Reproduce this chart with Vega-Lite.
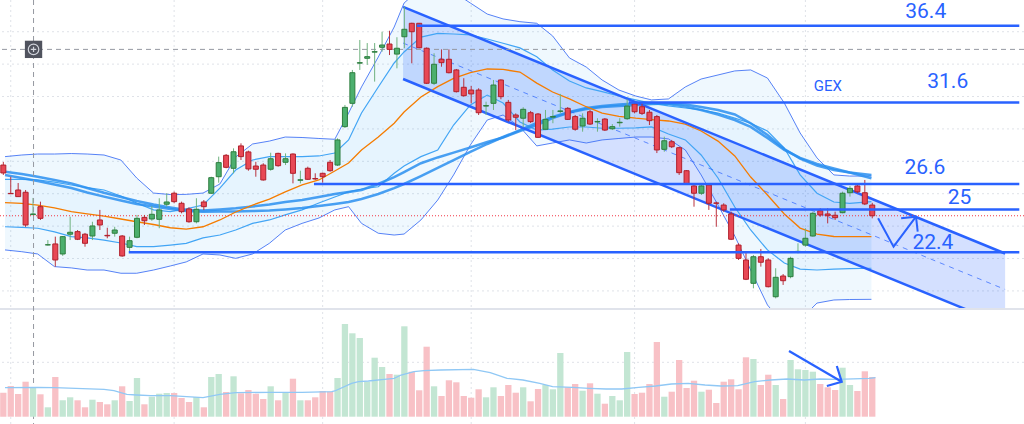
{
  "$schema": "https://vega.github.io/schema/vega-lite/v6.json",
  "description": "Candlestick chart with Bollinger bands, moving averages, a descending channel, price levels and volume.",
  "width": 1024,
  "height": 424,
  "autosize": {"type": "fit", "contains": "padding"},
  "padding": 0,
  "background": "white",
  "config": {"view": {"stroke": null}},
  "datasets": {
    "candles": [
      {"i":-2,"o":27.77,"h":27.96,"l":27.16,"c":27.28,"v":24},
      {"i":-1,"o":26.02,"h":27.05,"l":25.98,"c":26.0,"v":30.7},
      {"i":0,"o":26.23,"h":26.66,"l":25.8,"c":25.82,"v":22.7},
      {"i":1,"o":26.09,"h":26.23,"l":23.95,"c":24.07,"v":35},
      {"i":2,"o":24.71,"h":25.74,"l":24.69,"c":24.75,"v":29.4},
      {"i":3,"o":25.2,"h":25.51,"l":24.38,"c":24.48,"v":22.4},
      {"i":4,"o":22.84,"h":23.14,"l":22.8,"c":22.85,"v":9.4},
      {"i":5,"o":22.9,"h":23.35,"l":21.5,"c":21.91,"v":39.7},
      {"i":6,"o":22.28,"h":23.39,"l":22.16,"c":23.35,"v":16.4},
      {"i":7,"o":23.5,"h":24.58,"l":23.14,"c":23.62,"v":19.4},
      {"i":8,"o":23.66,"h":23.76,"l":23.14,"c":23.19,"v":16.4},
      {"i":9,"o":23.5,"h":23.58,"l":22.73,"c":22.94,"v":9.4},
      {"i":10,"o":23.39,"h":24.27,"l":23.14,"c":24.01,"v":17},
      {"i":11,"o":24.38,"h":25.0,"l":23.76,"c":24.07,"v":14.7},
      {"i":12,"o":23.43,"h":23.9,"l":23.25,"c":23.4,"v":12.4},
      {"i":13,"o":23.56,"h":23.96,"l":23.35,"c":23.76,"v":16.4},
      {"i":14,"o":23.39,"h":23.45,"l":22.11,"c":22.16,"v":30.4},
      {"i":15,"o":22.69,"h":23.35,"l":22.39,"c":23.1,"v":15.7},
      {"i":16,"o":23.31,"h":24.69,"l":23.25,"c":24.48,"v":38.7},
      {"i":17,"o":24.54,"h":24.69,"l":24.07,"c":24.33,"v":12.4},
      {"i":18,"o":24.44,"h":25.24,"l":24.33,"c":24.73,"v":20},
      {"i":19,"o":24.42,"h":25.72,"l":23.87,"c":25.0,"v":23},
      {"i":20,"o":25.35,"h":26.03,"l":25.2,"c":25.49,"v":23.7},
      {"i":21,"o":26.03,"h":26.13,"l":25.41,"c":25.51,"v":23.7},
      {"i":22,"o":25.41,"h":25.51,"l":24.79,"c":24.89,"v":18.7},
      {"i":23,"o":25.06,"h":25.16,"l":24.21,"c":24.27,"v":14.7},
      {"i":24,"o":24.27,"h":25.72,"l":24.17,"c":25.04,"v":19.7},
      {"i":25,"o":25.49,"h":25.61,"l":24.99,"c":25.2,"v":9.4},
      {"i":26,"o":26.03,"h":27.05,"l":25.98,"c":26.99,"v":39.7},
      {"i":27,"o":27.05,"h":28.29,"l":26.68,"c":27.92,"v":42.7},
      {"i":28,"o":28.37,"h":28.45,"l":27.57,"c":27.63,"v":24.7},
      {"i":29,"o":27.57,"h":28.8,"l":27.26,"c":28.59,"v":40.4},
      {"i":30,"o":28.95,"h":29.11,"l":28.08,"c":28.29,"v":23.4},
      {"i":31,"o":28.58,"h":28.66,"l":27.42,"c":27.53,"v":26.7},
      {"i":32,"o":27.71,"h":27.97,"l":27.05,"c":27.51,"v":23},
      {"i":33,"o":27.77,"h":27.88,"l":26.81,"c":26.85,"v":17.7},
      {"i":34,"o":27.51,"h":28.53,"l":27.42,"c":28.16,"v":30.4},
      {"i":35,"o":28.49,"h":28.53,"l":27.67,"c":27.73,"v":16.4},
      {"i":36,"o":27.94,"h":28.49,"l":27.77,"c":28.16,"v":24},
      {"i":37,"o":28.45,"h":28.49,"l":26.64,"c":27.26,"v":38},
      {"i":38,"o":26.83,"h":27.42,"l":26.64,"c":26.86,"v":16.4},
      {"i":39,"o":27.57,"h":27.67,"l":26.85,"c":26.89,"v":16.4},
      {"i":40,"o":26.94,"h":27.26,"l":26.85,"c":26.91,"v":19.4},
      {"i":41,"o":27.26,"h":27.3,"l":26.68,"c":27.05,"v":25.7},
      {"i":42,"o":27.94,"h":28.08,"l":27.36,"c":27.42,"v":25},
      {"i":43,"o":27.77,"h":29.42,"l":27.71,"c":29.32,"v":38.7},
      {"i":44,"o":30.14,"h":31.48,"l":30.06,"c":31.33,"v":92.7},
      {"i":45,"o":31.58,"h":33.64,"l":31.37,"c":33.47,"v":83.4},
      {"i":46,"o":34.06,"h":35.49,"l":33.64,"c":34.09,"v":78.7},
      {"i":47,"o":34.36,"h":35.3,"l":33.95,"c":34.46,"v":35},
      {"i":48,"o":34.74,"h":35.3,"l":32.92,"c":34.77,"v":59},
      {"i":49,"o":35.04,"h":36.0,"l":34.77,"c":35.18,"v":49.7},
      {"i":50,"o":35.24,"h":36.06,"l":34.56,"c":34.91,"v":42.7},
      {"i":51,"o":34.62,"h":35.66,"l":33.74,"c":34.98,"v":42},
      {"i":52,"o":35.69,"h":37.54,"l":34.98,"c":36.15,"v":90.4},
      {"i":53,"o":36.52,"h":36.55,"l":34.05,"c":36.0,"v":45},
      {"i":54,"o":36.52,"h":36.54,"l":34.98,"c":35.01,"v":26.4},
      {"i":55,"o":34.98,"h":35.03,"l":32.77,"c":32.82,"v":70},
      {"i":56,"o":32.82,"h":34.67,"l":32.71,"c":33.99,"v":30.4},
      {"i":57,"o":34.3,"h":34.91,"l":33.84,"c":34.09,"v":20.7},
      {"i":58,"o":34.3,"h":34.91,"l":33.43,"c":33.47,"v":36.4},
      {"i":59,"o":33.64,"h":33.7,"l":32.25,"c":32.3,"v":34.4},
      {"i":60,"o":32.57,"h":33.13,"l":31.99,"c":32.05,"v":20.7},
      {"i":61,"o":32.4,"h":32.65,"l":31.58,"c":32.16,"v":19},
      {"i":62,"o":32.4,"h":32.51,"l":30.86,"c":31.0,"v":27.4},
      {"i":63,"o":31.41,"h":31.68,"l":30.86,"c":31.44,"v":19.4},
      {"i":64,"o":31.58,"h":33.02,"l":31.17,"c":32.71,"v":29.4},
      {"i":65,"o":33.02,"h":33.06,"l":31.83,"c":31.99,"v":20.7},
      {"i":66,"o":31.64,"h":31.79,"l":30.45,"c":30.55,"v":31.7},
      {"i":67,"o":30.86,"h":30.96,"l":29.93,"c":30.72,"v":24},
      {"i":68,"o":30.66,"h":31.34,"l":30.1,"c":31.21,"v":29.4},
      {"i":69,"o":31.0,"h":31.11,"l":30.37,"c":30.45,"v":15.4},
      {"i":70,"o":30.92,"h":30.98,"l":29.44,"c":29.48,"v":27.7},
      {"i":71,"o":29.98,"h":31.17,"l":29.93,"c":30.59,"v":31.7},
      {"i":72,"o":30.73,"h":31.17,"l":30.35,"c":30.76,"v":27.4},
      {"i":73,"o":31.08,"h":32.16,"l":30.96,"c":31.11,"v":63.7},
      {"i":74,"o":31.27,"h":31.35,"l":30.55,"c":30.59,"v":29.4},
      {"i":75,"o":30.76,"h":30.86,"l":29.89,"c":29.98,"v":32.7},
      {"i":76,"o":30.18,"h":30.96,"l":29.83,"c":30.66,"v":26},
      {"i":77,"o":31.06,"h":31.17,"l":30.24,"c":30.3,"v":33.4},
      {"i":78,"o":30.43,"h":30.66,"l":29.83,"c":30.46,"v":23},
      {"i":79,"o":30.61,"h":30.67,"l":29.87,"c":29.93,"v":13},
      {"i":80,"o":30.01,"h":30.3,"l":29.93,"c":30.14,"v":20.7},
      {"i":81,"o":30.38,"h":30.66,"l":30.14,"c":30.41,"v":16.4},
      {"i":82,"o":30.63,"h":31.83,"l":30.55,"c":31.41,"v":64.7},
      {"i":83,"o":31.54,"h":31.68,"l":30.96,"c":31.06,"v":22.7},
      {"i":84,"o":31.37,"h":31.58,"l":30.86,"c":30.96,"v":24},
      {"i":85,"o":31.03,"h":31.17,"l":30.24,"c":30.51,"v":32.7},
      {"i":86,"o":30.76,"h":30.86,"l":28.51,"c":28.7,"v":74.7},
      {"i":87,"o":28.74,"h":29.52,"l":28.59,"c":29.27,"v":20},
      {"i":88,"o":29.21,"h":29.32,"l":28.82,"c":28.9,"v":25},
      {"i":89,"o":28.84,"h":28.9,"l":27.16,"c":27.3,"v":56.7},
      {"i":90,"o":27.42,"h":27.46,"l":26.54,"c":26.6,"v":28.7},
      {"i":91,"o":26.48,"h":26.54,"l":25.2,"c":26.03,"v":36},
      {"i":92,"o":26.03,"h":26.54,"l":25.92,"c":26.48,"v":25},
      {"i":93,"o":26.54,"h":26.64,"l":25.0,"c":25.41,"v":27},
      {"i":94,"o":25.43,"h":25.51,"l":23.96,"c":25.41,"v":13.7},
      {"i":95,"o":25.3,"h":25.41,"l":24.89,"c":25.0,"v":35},
      {"i":96,"o":24.75,"h":24.89,"l":23.14,"c":23.19,"v":37.4},
      {"i":97,"o":22.83,"h":22.94,"l":21.91,"c":22.01,"v":27.4},
      {"i":98,"o":21.91,"h":22.39,"l":20.67,"c":20.72,"v":59.4},
      {"i":99,"o":20.47,"h":22.22,"l":20.16,"c":22.11,"v":57.7},
      {"i":100,"o":22.11,"h":22.59,"l":21.5,"c":21.77,"v":31.7},
      {"i":101,"o":21.91,"h":22.01,"l":20.22,"c":20.26,"v":42},
      {"i":102,"o":19.64,"h":21.4,"l":19.54,"c":20.84,"v":31.7},
      {"i":103,"o":20.92,"h":21.04,"l":20.37,"c":20.63,"v":17.7},
      {"i":104,"o":20.88,"h":22.11,"l":20.78,"c":22.01,"v":56.7},
      {"i":105,"o":22.41,"h":22.94,"l":22.32,"c":22.44,"v":47.4},
      {"i":106,"o":22.83,"h":23.87,"l":22.73,"c":23.25,"v":46.7},
      {"i":107,"o":23.39,"h":24.89,"l":23.35,"c":24.79,"v":45},
      {"i":108,"o":24.95,"h":25.1,"l":24.58,"c":24.69,"v":32.7},
      {"i":109,"o":24.75,"h":25.1,"l":24.17,"c":24.64,"v":29.4},
      {"i":110,"o":24.67,"h":24.89,"l":24.38,"c":24.52,"v":26.7},
      {"i":111,"o":24.83,"h":26.13,"l":24.79,"c":26.03,"v":49},
      {"i":112,"o":26.06,"h":26.48,"l":25.82,"c":26.33,"v":31.7},
      {"i":113,"o":26.48,"h":26.54,"l":26.03,"c":26.12,"v":25.7},
      {"i":114,"o":26.06,"h":26.85,"l":25.3,"c":25.37,"v":45.4},
      {"i":115,"o":25.3,"h":25.44,"l":24.48,"c":24.64,"v":39.7}
    ],
    "bands": [
      {"i":-1.77,"uo":28.29,"lo":22.53,"iu":26.89,"il":23.96,"orr":25.45,"ma1":27.36,"ma2":27.16},
      {"i":0.49,"uo":28.39,"lo":22.42,"iu":26.88,"il":23.92,"orr":25.4,"ma1":27.22,"ma2":26.97},
      {"i":2.63,"uo":28.45,"lo":22.28,"iu":26.85,"il":23.87,"orr":25.3,"ma1":27.05,"ma2":26.78},
      {"i":4.89,"uo":28.45,"lo":21.5,"iu":26.72,"il":23.64,"orr":25.12,"ma1":26.85,"ma2":26.57},
      {"i":7.16,"uo":28.48,"lo":21.42,"iu":26.54,"il":23.35,"orr":24.89,"ma1":26.64,"ma2":26.35},
      {"i":9.29,"uo":28.45,"lo":21.29,"iu":26.38,"il":23.27,"orr":24.75,"ma1":26.35,"ma2":26.08},
      {"i":11.56,"uo":28.39,"lo":21.29,"iu":26.23,"il":23.14,"orr":24.62,"ma1":26.06,"ma2":25.82},
      {"i":13.83,"uo":28.08,"lo":21.09,"iu":25.86,"il":22.96,"orr":24.44,"ma1":25.8,"ma2":25.58},
      {"i":15.96,"uo":26.97,"lo":21.09,"iu":25.43,"il":22.73,"orr":24.27,"ma1":25.55,"ma2":25.37},
      {"i":18.23,"uo":26.04,"lo":21.29,"iu":25.0,"il":22.73,"orr":24.1,"ma1":25.33,"ma2":25.21},
      {"i":20.49,"uo":25.95,"lo":21.54,"iu":24.89,"il":22.83,"orr":23.9,"ma1":25.15,"ma2":25.06},
      {"i":22.63,"uo":25.96,"lo":21.79,"iu":25.06,"il":22.94,"orr":23.82,"ma1":25.0,"ma2":24.93},
      {"i":24.89,"uo":26.04,"lo":22.28,"iu":25.3,"il":23.27,"orr":23.96,"ma1":24.96,"ma2":24.89},
      {"i":27.16,"uo":26.6,"lo":22.22,"iu":26.35,"il":23.45,"orr":24.38,"ma1":25.03,"ma2":24.9},
      {"i":29.29,"uo":28.27,"lo":22.01,"iu":27.46,"il":23.76,"orr":24.87,"ma1":25.1,"ma2":24.91},
      {"i":31.56,"uo":29.07,"lo":22.28,"iu":28.08,"il":24.17,"orr":25.3,"ma1":25.21,"ma2":24.93},
      {"i":33.83,"uo":29.25,"lo":22.94,"iu":28.29,"il":24.38,"orr":25.67,"ma1":25.33,"ma2":24.96},
      {"i":35.96,"uo":29.5,"lo":23.76,"iu":28.29,"il":24.69,"orr":26.11,"ma1":25.49,"ma2":25.03},
      {"i":38.23,"uo":29.47,"lo":24.17,"iu":28.29,"il":25.0,"orr":26.54,"ma1":25.61,"ma2":25.12},
      {"i":40.49,"uo":29.41,"lo":24.5,"iu":28.33,"il":25.43,"orr":26.85,"ma1":25.8,"ma2":25.24},
      {"i":42.63,"uo":29.36,"lo":25.0,"iu":28.51,"il":25.8,"orr":27.4,"ma1":25.98,"ma2":25.37},
      {"i":44.49,"uo":30.98,"lo":25.2,"iu":29.32,"il":26.11,"orr":27.9,"ma1":26.11,"ma2":25.49},
      {"i":46.23,"uo":32.59,"lo":24.17,"iu":30.98,"il":26.29,"orr":28.7,"ma1":26.23,"ma2":25.67},
      {"i":48.49,"uo":34.44,"lo":23.56,"iu":32.59,"il":26.43,"orr":29.5,"ma1":26.6,"ma2":25.98},
      {"i":50.63,"uo":36.29,"lo":23.45,"iu":34.07,"il":27.26,"orr":30.35,"ma1":27.03,"ma2":26.35},
      {"i":51.96,"uo":37.77,"lo":23.51,"iu":34.75,"il":27.71,"orr":31.04,"ma1":27.34,"ma2":26.6},
      {"i":54.23,"uo":38.7,"lo":24.38,"iu":35.67,"il":28.29,"orr":31.97,"ma1":27.88,"ma2":27.09},
      {"i":56.49,"uo":38.88,"lo":25.61,"iu":35.9,"il":28.7,"orr":32.61,"ma1":28.24,"ma2":27.59},
      {"i":58.63,"uo":38.45,"lo":27.16,"iu":35.86,"il":30.24,"orr":33.12,"ma1":28.54,"ma2":28.08},
      {"i":60.89,"uo":37.77,"lo":29.01,"iu":35.8,"il":31.48,"orr":33.48,"ma1":28.85,"ma2":28.58},
      {"i":63.16,"uo":37.09,"lo":30.55,"iu":35.55,"il":32.09,"orr":33.7,"ma1":29.19,"ma2":29.07},
      {"i":65.29,"uo":36.79,"lo":30.86,"iu":35.29,"il":31.6,"orr":33.67,"ma1":29.47,"ma2":29.5},
      {"i":67.56,"uo":36.62,"lo":30.12,"iu":35.0,"il":30.43,"orr":33.51,"ma1":29.87,"ma2":29.93},
      {"i":69.83,"uo":36.52,"lo":28.95,"iu":34.46,"il":29.93,"orr":32.83,"ma1":30.24,"ma2":30.37},
      {"i":71.96,"uo":35.74,"lo":29.13,"iu":33.64,"il":29.99,"orr":32.28,"ma1":30.67,"ma2":30.74},
      {"i":74.23,"uo":34.38,"lo":29.32,"iu":32.96,"il":30.12,"orr":31.85,"ma1":31.01,"ma2":31.04},
      {"i":76.49,"uo":33.82,"lo":29.13,"iu":32.53,"il":30.12,"orr":31.37,"ma1":31.23,"ma2":31.29},
      {"i":78.63,"uo":33.02,"lo":29.32,"iu":32.3,"il":30.04,"orr":30.98,"ma1":31.35,"ma2":31.42},
      {"i":80.89,"uo":32.4,"lo":29.41,"iu":32.03,"il":30.04,"orr":30.77,"ma1":31.42,"ma2":31.51},
      {"i":83.16,"uo":32.03,"lo":29.5,"iu":31.79,"il":30.06,"orr":30.66,"ma1":31.48,"ma2":31.57},
      {"i":85.29,"uo":31.79,"lo":29.5,"iu":31.58,"il":30.12,"orr":30.58,"ma1":31.54,"ma2":31.6},
      {"i":87.56,"uo":31.85,"lo":29.38,"iu":31.42,"il":29.69,"orr":30.49,"ma1":31.57,"ma2":31.54},
      {"i":89.83,"uo":32.59,"lo":28.7,"iu":31.29,"il":29.32,"orr":30.3,"ma1":31.51,"ma2":31.38},
      {"i":91.96,"uo":33.08,"lo":27.16,"iu":31.17,"il":28.39,"orr":29.87,"ma1":31.35,"ma2":31.17},
      {"i":94.23,"uo":33.33,"lo":25.3,"iu":30.98,"il":26.97,"orr":29.25,"ma1":31.17,"ma2":30.89},
      {"i":96.49,"uo":33.58,"lo":23.39,"iu":30.67,"il":25.18,"orr":28.33,"ma1":30.89,"ma2":30.55},
      {"i":98.63,"uo":33.64,"lo":21.29,"iu":30.35,"il":23.76,"orr":27.03,"ma1":30.35,"ma2":30.12},
      {"i":100.89,"uo":33.14,"lo":19.13,"iu":29.87,"il":22.53,"orr":25.92,"ma1":29.62,"ma2":29.44},
      {"i":103.16,"uo":31.6,"lo":17.9,"iu":28.82,"il":21.72,"orr":24.75,"ma1":28.76,"ma2":28.7},
      {"i":105.29,"uo":29.75,"lo":18.21,"iu":27.16,"il":21.35,"orr":23.88,"ma1":28.17,"ma2":28.21},
      {"i":107.56,"uo":28.21,"lo":19.25,"iu":26.03,"il":21.29,"orr":23.51,"ma1":27.74,"ma2":27.84},
      {"i":109.83,"uo":27.16,"lo":19.44,"iu":25.49,"il":21.35,"orr":23.36,"ma1":27.46,"ma2":27.56},
      {"i":111.96,"uo":27.09,"lo":19.47,"iu":25.41,"il":21.38,"orr":23.35,"ma1":27.31,"ma2":27.31},
      {"i":114.89,"uo":27.09,"lo":19.48,"iu":25.51,"il":21.4,"orr":23.35,"ma1":27.16,"ma2":26.95}
    ],
    "volma": [
      {"i":-1.77,"vm":29},{"i":2.63,"vm":29.4},{"i":4.89,"vm":29},{"i":11.56,"vm":27.4},
      {"i":12.89,"vm":26},{"i":14.63,"vm":22.4},{"i":15.96,"vm":21.7},{"i":17.83,"vm":21},
      {"i":20.49,"vm":21},{"i":24.89,"vm":19},{"i":27.16,"vm":22.4},{"i":29.29,"vm":24},
      {"i":33.83,"vm":24.4},{"i":38.23,"vm":24.4},{"i":42.23,"vm":25},{"i":42.63,"vm":25.7},
      {"i":44.89,"vm":33.4},{"i":45.83,"vm":35},{"i":47.16,"vm":35.7},{"i":49.29,"vm":37.4},
      {"i":50.63,"vm":38.4},{"i":51.56,"vm":41.7},{"i":53.29,"vm":45},{"i":54.63,"vm":46},
      {"i":56.89,"vm":46.7},{"i":61.29,"vm":47.4},{"i":63.56,"vm":44},{"i":65.83,"vm":38.4},
      {"i":67.96,"vm":36.7},{"i":70.23,"vm":33.4},{"i":71.96,"vm":30},{"i":74.63,"vm":29.4},
      {"i":76.89,"vm":28.4},{"i":79.16,"vm":27.7},{"i":81.29,"vm":27.7},{"i":83.56,"vm":29.4},
      {"i":85.83,"vm":30.7},{"i":87.96,"vm":32.7},{"i":90.23,"vm":33.4},{"i":92.49,"vm":31.7},
      {"i":94.63,"vm":30.7},{"i":96.89,"vm":31},{"i":99.16,"vm":35},{"i":101.29,"vm":36.7},
      {"i":103.56,"vm":37.7},{"i":105.83,"vm":36.7},{"i":107.96,"vm":37.7},{"i":110.23,"vm":37.4},
      {"i":114.63,"vm":38.4},{"i":115.43,"vm":39}
    ],
    "channel": [
      {"i":51.83,"top":37.53,"mid":35.3,"bot":33.08},
      {"i":132.89,"top":22.31,"mid":20.09,"bot":17.87}
    ],
    "levels": [
      {"p":36.37,"i":53.69,"i2":134.8},
      {"p":31.63,"i":82.23,"i2":134.8},
      {"p":26.6,"i":39.83,"i2":134.8},
      {"p":25.03,"i":95.83,"i2":134.8},
      {"p":22.38,"i":14.89,"i2":134.8}
    ],
    "labels": [
      {"t":"36.4","i":122.2,"p":37.2},
      {"t":"31.6","i":125.16,"p":32.87},
      {"t":"26.6","i":122.09,"p":27.59},
      {"t":"25","i":126.76,"p":25.71},
      {"t":"22.4","i":123.16,"p":22.96}
    ],
    "vgrid": [{"i":-1},{"i":21},{"i":41},{"i":61},{"i":83},{"i":106}],
    "priceArrow": [
      {"seg":"a","ord":0,"i":115.79,"p":24.48},
      {"seg":"a","ord":1,"i":117.87,"p":22.73},
      {"seg":"a","ord":2,"i":120.89,"p":24.58},
      {"seg":"b","ord":0,"i":118.89,"p":24.48},
      {"seg":"b","ord":1,"i":120.89,"p":24.58},
      {"seg":"b","ord":2,"i":121.12,"p":23.66}
    ],
    "volArrow": [
      {"seg":"a","ord":0,"i":103.79,"v":65.7},
      {"seg":"a","ord":1,"i":110.89,"v":35},
      {"seg":"b","ord":0,"i":108.89,"v":30.7},
      {"seg":"b","ord":1,"i":110.89,"v":35},
      {"seg":"b","ord":2,"i":110.23,"v":50.7}
    ]
  },
  "resolve": {"scale": {"y": "independent"}},
  "layer": [
    {
      "data": {"values": [{"p":20},{"p":22},{"p":24},{"p":26},{"p":28},{"p":30},{"p":32},{"p":34},{"p":36}]},
      "mark": {"type": "rule", "color": "#dfe2e8", "strokeDash": [2, 3], "strokeWidth": 1, "clip": true},
      "encoding": {"y": {"field": "p", "type": "quantitative", "axis": null, "scale": {"domain": [11.785, 37.958], "nice": false, "zero": false}}}
    },
    {
      "data": {"name": "vgrid"},
      "mark": {"type": "rule", "color": "#dfe2e8", "strokeDash": [2, 3], "strokeWidth": 1, "clip": true},
      "encoding": {"x": {"field": "i", "type": "quantitative", "axis": null, "scale": {"domain": [-1.773, 134.76], "nice": false, "zero": false}}}
    },
    {
      "data": {"name": "bands"},
      "mark": {"type": "area", "color": "#2196f3", "opacity": 0.07, "clip": true},
      "encoding": {
        "x": {"field": "i", "type": "quantitative", "axis": null, "scale": {"domain": [-1.773, 134.76], "nice": false, "zero": false}},
        "y": {"field": "uo", "type": "quantitative", "axis": null, "scale": {"domain": [11.785, 37.958], "nice": false, "zero": false}},
        "y2": {"field": "lo"}
      }
    },
    {
      "data": {"name": "bands"},
      "mark": {"type": "area", "color": "#2196f3", "opacity": 0.04, "clip": true},
      "encoding": {
        "x": {"field": "i", "type": "quantitative", "axis": null, "scale": {"domain": [-1.773, 134.76], "nice": false, "zero": false}},
        "y": {"field": "iu", "type": "quantitative", "axis": null, "scale": {"domain": [11.785, 37.958], "nice": false, "zero": false}},
        "y2": {"field": "il"}
      }
    },
    {
      "data": {"name": "channel"},
      "mark": {"type": "area", "color": "#2962ff", "opacity": 0.2, "clip": true},
      "encoding": {
        "x": {"field": "i", "type": "quantitative", "axis": null, "scale": {"domain": [-1.773, 134.76], "nice": false, "zero": false}},
        "y": {"field": "top", "type": "quantitative", "axis": null, "scale": {"domain": [11.785, 37.958], "nice": false, "zero": false}},
        "y2": {"field": "bot"}
      }
    },
    {
      "data": {"name": "bands"},
      "mark": {"type": "line", "color": "#3a6cf4", "strokeWidth": 1, "opacity": 0.85, "clip": true},
      "encoding": {
        "x": {"field": "i", "type": "quantitative", "axis": null, "scale": {"domain": [-1.773, 134.76], "nice": false, "zero": false}},
        "y": {"field": "uo", "type": "quantitative", "axis": null, "scale": {"domain": [11.785, 37.958], "nice": false, "zero": false}}
      }
    },
    {
      "data": {"name": "bands"},
      "mark": {"type": "line", "color": "#3a6cf4", "strokeWidth": 1, "opacity": 0.85, "clip": true},
      "encoding": {
        "x": {"field": "i", "type": "quantitative", "axis": null, "scale": {"domain": [-1.773, 134.76], "nice": false, "zero": false}},
        "y": {"field": "lo", "type": "quantitative", "axis": null, "scale": {"domain": [11.785, 37.958], "nice": false, "zero": false}}
      }
    },
    {
      "data": {"name": "bands"},
      "mark": {"type": "line", "color": "#42a5f5", "strokeWidth": 1.2, "clip": true},
      "encoding": {
        "x": {"field": "i", "type": "quantitative", "axis": null, "scale": {"domain": [-1.773, 134.76], "nice": false, "zero": false}},
        "y": {"field": "iu", "type": "quantitative", "axis": null, "scale": {"domain": [11.785, 37.958], "nice": false, "zero": false}}
      }
    },
    {
      "data": {"name": "bands"},
      "mark": {"type": "line", "color": "#42a5f5", "strokeWidth": 1.2, "clip": true},
      "encoding": {
        "x": {"field": "i", "type": "quantitative", "axis": null, "scale": {"domain": [-1.773, 134.76], "nice": false, "zero": false}},
        "y": {"field": "il", "type": "quantitative", "axis": null, "scale": {"domain": [11.785, 37.958], "nice": false, "zero": false}}
      }
    },
    {
      "data": {"name": "bands"},
      "mark": {"type": "line", "color": "#2a8ff0", "strokeWidth": 2.5, "opacity": 0.85, "clip": true},
      "encoding": {
        "x": {"field": "i", "type": "quantitative", "axis": null, "scale": {"domain": [-1.773, 134.76], "nice": false, "zero": false}},
        "y": {"field": "ma1", "type": "quantitative", "axis": null, "scale": {"domain": [11.785, 37.958], "nice": false, "zero": false}}
      }
    },
    {
      "data": {"name": "bands"},
      "mark": {"type": "line", "color": "#2a8ff0", "strokeWidth": 2.5, "opacity": 0.85, "clip": true},
      "encoding": {
        "x": {"field": "i", "type": "quantitative", "axis": null, "scale": {"domain": [-1.773, 134.76], "nice": false, "zero": false}},
        "y": {"field": "ma2", "type": "quantitative", "axis": null, "scale": {"domain": [11.785, 37.958], "nice": false, "zero": false}}
      }
    },
    {
      "data": {"name": "bands"},
      "mark": {"type": "line", "color": "#f57c00", "strokeWidth": 1.3, "clip": true},
      "encoding": {
        "x": {"field": "i", "type": "quantitative", "axis": null, "scale": {"domain": [-1.773, 134.76], "nice": false, "zero": false}},
        "y": {"field": "orr", "type": "quantitative", "axis": null, "scale": {"domain": [11.785, 37.958], "nice": false, "zero": false}}
      }
    },
    {
      "data": {"name": "channel"},
      "mark": {"type": "line", "color": "#2962ff", "strokeWidth": 2.5, "clip": true},
      "encoding": {
        "x": {"field": "i", "type": "quantitative", "axis": null, "scale": {"domain": [-1.773, 134.76], "nice": false, "zero": false}},
        "y": {"field": "top", "type": "quantitative", "axis": null, "scale": {"domain": [11.785, 37.958], "nice": false, "zero": false}}
      }
    },
    {
      "data": {"name": "channel"},
      "mark": {"type": "line", "color": "#2962ff", "strokeWidth": 2.5, "clip": true},
      "encoding": {
        "x": {"field": "i", "type": "quantitative", "axis": null, "scale": {"domain": [-1.773, 134.76], "nice": false, "zero": false}},
        "y": {"field": "bot", "type": "quantitative", "axis": null, "scale": {"domain": [11.785, 37.958], "nice": false, "zero": false}}
      }
    },
    {
      "data": {"name": "channel"},
      "mark": {"type": "line", "color": "#2962ff", "strokeWidth": 1, "strokeDash": [5, 5], "opacity": 0.7, "clip": true},
      "encoding": {
        "x": {"field": "i", "type": "quantitative", "axis": null, "scale": {"domain": [-1.773, 134.76], "nice": false, "zero": false}},
        "y": {"field": "mid", "type": "quantitative", "axis": null, "scale": {"domain": [11.785, 37.958], "nice": false, "zero": false}}
      }
    },
    {
      "data": {"values": [{"p": 24.64}]},
      "mark": {"type": "rule", "color": "#f23645", "strokeDash": [1, 2], "strokeWidth": 1, "clip": true},
      "encoding": {"y": {"field": "p", "type": "quantitative", "axis": null, "scale": {"domain": [11.785, 37.958], "nice": false, "zero": false}}}
    },
    {
      "data": {"values": [{"p": 34.91}]},
      "mark": {"type": "rule", "color": "#9598a1", "strokeDash": [5, 4], "strokeWidth": 1, "clip": true},
      "encoding": {"y": {"field": "p", "type": "quantitative", "axis": null, "scale": {"domain": [11.785, 37.958], "nice": false, "zero": false}}}
    },
    {
      "data": {"name": "candles"},
      "mark": {"type": "rule", "strokeWidth": 1, "clip": true},
      "encoding": {
        "x": {"field": "i", "type": "quantitative", "axis": null, "scale": {"domain": [-1.773, 134.76], "nice": false, "zero": false}},
        "y": {"field": "l", "type": "quantitative", "axis": null, "scale": {"domain": [11.785, 37.958], "nice": false, "zero": false}},
        "y2": {"field": "h"},
        "color": {"condition": {"test": "datum.c >= datum.o", "value": "#6fb27f"}, "value": "#b8323e"}
      }
    },
    {
      "data": {"name": "candles"},
      "mark": {"type": "bar", "width": 5, "strokeWidth": 1, "clip": true},
      "encoding": {
        "x": {"field": "i", "type": "quantitative", "axis": null, "scale": {"domain": [-1.773, 134.76], "nice": false, "zero": false}},
        "y": {"field": "o", "type": "quantitative", "axis": null, "scale": {"domain": [11.785, 37.958], "nice": false, "zero": false}},
        "y2": {"field": "c"},
        "fill": {"condition": {"test": "datum.c >= datum.o", "value": "#4caf6e"}, "value": "#e84855"},
        "stroke": {"condition": {"test": "datum.c >= datum.o", "value": "#2e7d3e"}, "value": "#b0202c"}
      }
    },
    {
      "data": {"name": "levels"},
      "mark": {"type": "rule", "color": "#2962ff", "strokeWidth": 2.5, "clip": true},
      "encoding": {
        "x": {"field": "i", "type": "quantitative", "axis": null, "scale": {"domain": [-1.773, 134.76], "nice": false, "zero": false}},
        "x2": {"field": "i2"},
        "y": {"field": "p", "type": "quantitative", "axis": null, "scale": {"domain": [11.785, 37.958], "nice": false, "zero": false}}
      }
    },
    {
      "data": {"name": "priceArrow"},
      "mark": {"type": "line", "color": "#2962ff", "strokeWidth": 2, "clip": true},
      "encoding": {
        "x": {"field": "i", "type": "quantitative", "axis": null, "scale": {"domain": [-1.773, 134.76], "nice": false, "zero": false}},
        "y": {"field": "p", "type": "quantitative", "axis": null, "scale": {"domain": [11.785, 37.958], "nice": false, "zero": false}},
        "detail": {"field": "seg"},
        "order": {"field": "ord"}
      }
    },
    {
      "data": {"values": [{"a": 0}]},
      "mark": {"type": "rect", "color": "white", "opacity": 1, "clip": true},
      "encoding": {
        "x": {"datum": -1.773, "type": "quantitative", "axis": null, "scale": {"domain": [-1.773, 134.76], "nice": false, "zero": false}},
        "x2": {"datum": 134.76},
        "y": {"datum": -7.3, "type": "quantitative", "axis": null, "scale": {"domain": [-7.3, 416.7], "nice": false, "zero": false}},
        "y2": {"datum": 108.7}
      }
    },
    {
      "data": {"values": [{"v": 54.4}]},
      "mark": {"type": "rule", "color": "#dfe2e8", "strokeDash": [2, 3], "strokeWidth": 1, "clip": true},
      "encoding": {"y": {"field": "v", "type": "quantitative", "axis": null, "scale": {"domain": [-7.3, 416.7], "nice": false, "zero": false}}}
    },
    {
      "data": {"name": "vgrid"},
      "mark": {"type": "rule", "color": "#dfe2e8", "strokeDash": [2, 3], "strokeWidth": 1, "clip": true},
      "encoding": {
        "x": {"field": "i", "type": "quantitative", "axis": null, "scale": {"domain": [-1.773, 134.76], "nice": false, "zero": false}},
        "y": {"datum": -7.3, "type": "quantitative", "axis": null, "scale": {"domain": [-7.3, 416.7], "nice": false, "zero": false}},
        "y2": {"datum": 108.7}
      }
    },
    {
      "data": {"values": [{"v": 107.7}]},
      "mark": {"type": "rule", "color": "#e0e3eb", "strokeWidth": 2, "clip": true},
      "encoding": {"y": {"field": "v", "type": "quantitative", "axis": null, "scale": {"domain": [-7.3, 416.7], "nice": false, "zero": false}}}
    },
    {
      "data": {"values": [{"i": 2.07}]},
      "mark": {"type": "rule", "color": "#9598a1", "strokeDash": [5, 4], "strokeWidth": 1, "clip": true},
      "encoding": {"x": {"field": "i", "type": "quantitative", "axis": null, "scale": {"domain": [-1.773, 134.76], "nice": false, "zero": false}}}
    },
    {
      "data": {"name": "candles"},
      "mark": {"type": "bar", "width": 6.3, "clip": true},
      "encoding": {
        "x": {"field": "i", "type": "quantitative", "axis": null, "scale": {"domain": [-1.773, 134.76], "nice": false, "zero": false}},
        "y": {"field": "v", "type": "quantitative", "axis": null, "scale": {"domain": [-7.3, 416.7], "nice": false, "zero": false}},
        "y2": {"datum": 0},
        "color": {"condition": {"test": "datum.c >= datum.o", "value": "#c3e6d3"}, "value": "#f8c1c6"}
      }
    },
    {
      "data": {"name": "volma"},
      "mark": {"type": "line", "color": "#90c8f5", "strokeWidth": 1.3, "clip": true},
      "encoding": {
        "x": {"field": "i", "type": "quantitative", "axis": null, "scale": {"domain": [-1.773, 134.76], "nice": false, "zero": false}},
        "y": {"field": "vm", "type": "quantitative", "axis": null, "scale": {"domain": [-7.3, 416.7], "nice": false, "zero": false}}
      }
    },
    {
      "data": {"name": "volArrow"},
      "mark": {"type": "line", "color": "#2962ff", "strokeWidth": 2.2, "clip": true},
      "encoding": {
        "x": {"field": "i", "type": "quantitative", "axis": null, "scale": {"domain": [-1.773, 134.76], "nice": false, "zero": false}},
        "y": {"field": "v", "type": "quantitative", "axis": null, "scale": {"domain": [-7.3, 416.7], "nice": false, "zero": false}},
        "detail": {"field": "seg"},
        "order": {"field": "ord"}
      }
    },
    {
      "data": {"name": "labels"},
      "mark": {"type": "text", "font": "Roboto", "fontSize": 21, "color": "#2962ff", "align": "center", "baseline": "middle"},
      "encoding": {
        "x": {"field": "i", "type": "quantitative", "axis": null, "scale": {"domain": [-1.773, 134.76], "nice": false, "zero": false}},
        "y": {"field": "p", "type": "quantitative", "axis": null, "scale": {"domain": [11.785, 37.958], "nice": false, "zero": false}},
        "text": {"field": "t"}
      }
    },
    {
      "data": {"values": [{"t": "GEX", "i": 109.03, "p": 32.65}]},
      "mark": {"type": "text", "font": "Roboto", "fontSize": 15, "color": "#2962ff", "align": "center", "baseline": "middle"},
      "encoding": {
        "x": {"field": "i", "type": "quantitative", "axis": null, "scale": {"domain": [-1.773, 134.76], "nice": false, "zero": false}},
        "y": {"field": "p", "type": "quantitative", "axis": null, "scale": {"domain": [11.785, 37.958], "nice": false, "zero": false}},
        "text": {"field": "t"}
      }
    },
    {
      "data": {"values": [{"i": 2.07, "p": 34.91}]},
      "mark": {"type": "point", "shape": "square", "size": 300, "filled": true, "color": "#50535e", "opacity": 1, "clip": true},
      "encoding": {
        "x": {"field": "i", "type": "quantitative", "axis": null, "scale": {"domain": [-1.773, 134.76], "nice": false, "zero": false}},
        "y": {"field": "p", "type": "quantitative", "axis": null, "scale": {"domain": [11.785, 37.958], "nice": false, "zero": false}}
      }
    },
    {
      "data": {"values": [{"i": 2.07, "p": 34.91}]},
      "mark": {"type": "point", "shape": "circle", "size": 110, "filled": false, "color": "#d1d4dc", "strokeWidth": 1.2, "opacity": 1, "clip": true},
      "encoding": {
        "x": {"field": "i", "type": "quantitative", "axis": null, "scale": {"domain": [-1.773, 134.76], "nice": false, "zero": false}},
        "y": {"field": "p", "type": "quantitative", "axis": null, "scale": {"domain": [11.785, 37.958], "nice": false, "zero": false}}
      }
    },
    {
      "data": {"values": [{"i": 2.07, "p": 34.91}]},
      "mark": {"type": "point", "shape": "M-1,0L1,0M0,-1L0,1", "size": 30, "filled": false, "color": "#d1d4dc", "strokeWidth": 1.2, "opacity": 1, "clip": true},
      "encoding": {
        "x": {"field": "i", "type": "quantitative", "axis": null, "scale": {"domain": [-1.773, 134.76], "nice": false, "zero": false}},
        "y": {"field": "p", "type": "quantitative", "axis": null, "scale": {"domain": [11.785, 37.958], "nice": false, "zero": false}}
      }
    }
  ]
}
